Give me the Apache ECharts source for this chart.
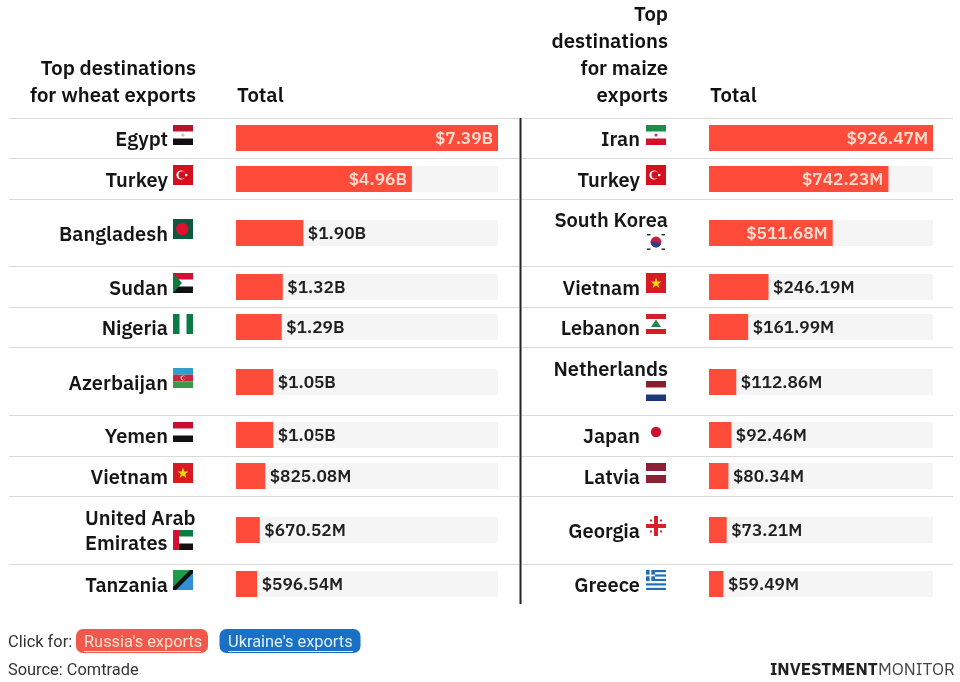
<!DOCTYPE html>
<html><head><meta charset="utf-8">
<style>html,body{margin:0;padding:0;background:#fff}#c{width:960px;height:682px}</style>
<script src="https://cdn.jsdelivr.net/npm/echarts@6/dist/echarts.min.js"></script>
</head><body><div id="c"></div>
<script>
// ---- data ----
const wheatCountries = ['Egypt','Turkey','Bangladesh','Sudan','Nigeria','Azerbaijan','Yemen','Vietnam','United Arab\nEmirates','Tanzania'];
const wheatValues = [7.39,4.96,1.90,1.32,1.29,1.05,1.05,0.82508,0.67052,0.59654]; // $ billions
const wheatLabels = ['$7.39B','$4.96B','$1.90B','$1.32B','$1.29B','$1.05B','$1.05B','$825.08M','$670.52M','$596.54M'];
const maizeCountries = ['Iran','Turkey','South Korea\n ','Vietnam','Lebanon','Netherlands\n ','Japan','Latvia','Georgia','Greece'];
const maizeValues = [926.47,742.23,511.68,246.19,161.99,112.86,92.46,80.34,73.21,59.49]; // $ millions
const maizeLabels = ['$926.47M','$742.23M','$511.68M','$246.19M','$161.99M','$112.86M','$92.46M','$80.34M','$73.21M','$59.49M'];
const wheatHeader = 'Top destinations\nfor wheat exports';
const maizeHeader = 'Top\ndestinations\nfor maize\nexports';
const totalHeader = 'Total';
const clickText = 'Click for:';
const russiaText = "Russia's exports";
const ukraineText = "Ukraine's exports";
const sourceText = 'Source: Comtrade';

// ---- layout (pixels) ----
const FONT = '"IBM Plex Sans","Noto Sans",sans-serif';
const FOOT = 'Roboto,sans-serif';
const rules = [118,158,199,266,307,347,415,456,496,564];
const barTops = [125,166,220,274,314,369,422,463,517,571];
const barH = 26;
const insideCount = {wheat:2, maize:3};
const wheatFlagTops = [125,165,219,273,314,368,422,463,530,570];
const maizeFlagTops = [125,165,232,273,314,381,422,463,516,570];
const tables = [
  {key:'wheat',names:wheatCountries,vals:wheatValues,labels:wheatLabels,left:236,width:262,nameRight:168,flagX:173,flagTops:wheatFlagTops,flags:['eg','tr','bd','sd','ng','az','ye','vn','ae','tz']},
  {key:'maize',names:maizeCountries,vals:maizeValues,labels:maizeLabels,left:709,width:224,nameRight:640,flagX:646,flagTops:maizeFlagTops,flags:['ir','tr','kr','vn','lb','nl','jp','lv','ge','gr']}
];

// ---- flags: shapes in a 20x20 box ----
const R=(x,y,w,h,f)=>({type:'rect',shape:{x,y,width:w,height:h},style:{fill:f}});
const C=(x,y,r,f)=>({type:'circle',shape:{cx:x,cy:y,r},style:{fill:f}});
const P=(pts,f)=>({type:'polygon',shape:{points:pts},style:{fill:f}});
const FLAGS={
  eg:[R(0,0,20,6.5,'#b3162b'),C(10,10,1.6,'#d9c08a'),R(0,13.5,20,6.5,'#111')],
  tr:[R(0,0,20,20,'#d4101f'),C(8,10,4.6,'#fff'),C(9.2,10,3.7,'#d4101f'),C(13.2,10,1.3,'#fff')],
  bd:[R(0,0,20,20,'#0a5a40'),C(9.3,10,6.2,'#e01030')],
  sd:[R(0,0,20,6.5,'#d21034'),R(0,13.5,20,6.5,'#111'),P([[0,0],[9,10],[0,20]],'#0d7a3e')],
  ng:[R(0,0,6.5,20,'#0b7a45'),R(13.5,0,6.5,20,'#0b7a45')],
  az:[R(0,0,20,6.7,'#2f9fd0'),R(0,6.7,20,6.6,'#c8273c'),R(0,13.3,20,6.7,'#3b9a4a'),C(10,10,2.4,'#f3d9da'),C(10.7,10,1.9,'#c8273c')],
  ye:[R(0,0,20,6.5,'#c8102e'),R(0,13.5,20,6.5,'#111')],
  vn:[R(0,0,20,20,'#da1a22'),P([[10,4.5],[11.4,8.4],[15.5,8.4],[12.2,10.9],[13.4,15],[10,12.5],[6.6,15],[7.8,10.9],[4.5,8.4],[8.6,8.4]],'#f7d308')],
  ae:[R(6,0,14,6.5,'#0b7a45'),R(6,13.5,14,6.5,'#111'),R(0,0,6,20,'#d21034')],
  tz:[P([[0,0],[20,0],[0,20]],'#1d9a4a'),P([[20,0],[20,20],[0,20]],'#2f8fd8'),P([[17,0],[20,0],[20,3],[3,20],[0,20],[0,17]],'#111')],
  ir:[R(0,0,20,6.5,'#1a8f4a'),C(10,10,1.6,'#c8404a'),R(0,13.5,20,6.5,'#d2102a')],
  kr:[C(10,10,5.4,'#c8203a'),{type:'sector',shape:{cx:10,cy:10,r:5.4,startAngle:0.2,endAngle:3.3},style:{fill:'#2d3f8f'}},R(1,2,3.5,1.4,'#222'),R(15.5,2,3.5,1.4,'#222'),R(1,16.5,3.5,1.4,'#222'),R(15.5,16.5,3.5,1.4,'#222')],
  lb:[R(0,0,20,5,'#d2202a'),P([[10,5.5],[15,13],[5,13]],'#1f8a45'),R(0,15,20,5,'#d2202a')],
  nl:[R(0,0,20,6.5,'#8e1c30'),R(0,13.5,20,6.5,'#1d3a78')],
  jp:[C(10,10,5.2,'#d01030')],
  lv:[R(0,0,20,8,'#8e2035'),R(0,12,20,8,'#8e2035')],
  ge:[R(8,0,4,20,'#d8202a'),R(0,8,20,4,'#d8202a'),R(4,3.5,2,2,'#d8202a'),R(14,3.5,2,2,'#d8202a'),R(4,14.5,2,2,'#d8202a'),R(14,14.5,2,2,'#d8202a')],
  gr:[R(0,0,20,2.2,'#1f6fb5'),R(0,4.4,20,2.2,'#1f6fb5'),R(0,8.9,20,2.2,'#1f6fb5'),R(0,13.3,20,2.2,'#1f6fb5'),R(0,17.8,20,2.2,'#1f6fb5'),R(0,0,8.9,11,'#1f6fb5'),R(3.6,0,1.7,11,'#fff'),R(0,4.6,8.9,1.7,'#fff')]
};

// ---- option ----
const grid=[],xAxis=[],yAxis=[],series=[],graphic=[];
const nameStyle={fontFamily:FONT,fontSize:20,fontWeight:600,color:'#161616',lineHeight:27};
const nameRich={
  p:{...nameStyle,padding:[4,0,0,0]},
  n:{...nameStyle},
  u:{...nameStyle,padding:[6,0,0,0]},
  v:{...nameStyle,padding:[2,0,0,0]}
};
tables.forEach(t=>{
  const max=t.vals[0];
  t.names.forEach((name,i)=>{
    const idx=grid.length, inside=i<insideCount[t.key];
    const leftBlock = name.startsWith('United');
    const multiRight = name.endsWith('\n ');
    grid.push({left:t.left,top:barTops[i],width:t.width,height:barH,containLabel:false});
    xAxis.push({type:'value',gridIndex:idx,min:0,max:max,show:false});
    yAxis.push({type:'category',gridIndex:idx,data:[name],axisLine:{show:false},axisTick:{show:false},
      axisLabel:{
        ...nameStyle,
        formatter:v=>v.split('\n').map((l,k)=>`{${leftBlock?(k?'v':'u'):(k?'n':'p')}|${l}}`).join('\n'),
        rich:nameRich,
        align:leftBlock?'left':'right',
        margin:leftBlock?151:(multiRight?41:t.left-t.nameRight)
      }});
    series.push({type:'bar',xAxisIndex:idx,yAxisIndex:idx,data:[t.vals[i]],barCategoryGap:0,barWidth:'100%',
      showBackground:true,backgroundStyle:{color:'#f5f5f5'},silent:true,
      itemStyle:{color:'#ff4b3a'},
      label:{show:true,position:inside?'insideRight':'right',distance:inside?5:4.5,offset:[0,1],
        formatter:()=>t.labels[i],fontFamily:FONT,fontSize:17.3,fontWeight:600,
        color:inside?'#fbdcd0':'#1f1f1f'}});
    graphic.push({type:'group',x:t.flagX,y:t.flagTops[i],children:FLAGS[t.flags[i]]});
  });
});
const line=(x1,y1,x2,y2,c,w)=>({type:'line',shape:{x1,y1,x2,y2},style:{stroke:c,lineWidth:w}});
rules.forEach(y=>{graphic.push(line(9,y+.5,519,y+.5,'#d9d9d9',1));graphic.push(line(522,y+.5,953,y+.5,'#d9d9d9',1));});
graphic.push(line(520.5,118,520.5,604,'#222',2));
const txt=(x,y,s,o)=>({type:'text',x,y,style:Object.assign({text:s,fontFamily:FONT,fontSize:20.3,fontWeight:600,fill:'#111',lineHeight:27,textVerticalAlign:'bottom'},o)});
graphic.push(txt(196,110,wheatHeader,{textAlign:'right'}));
graphic.push(txt(668,110,maizeHeader,{textAlign:'right'}));
graphic.push(txt(237,110,totalHeader,{textAlign:'left'}));
graphic.push(txt(710,110,totalHeader,{textAlign:'left'}));
const foot=(x,y,s,c)=>txt(x,y,s,{fontFamily:FOOT,fontWeight:400,fontSize:16.4,fill:c,textAlign:'left',textVerticalAlign:'middle',lineHeight:18});
graphic.push(foot(8,643,clickText,'#333'));
graphic.push({type:'rect',shape:{x:76,y:629,width:132,height:24,r:7},style:{fill:'#f0584c'}});
graphic.push(foot(84,643,russiaText,'#ffe3d6'));
graphic.push(line(84,651.5,201,651.5,'#ffe3d6',1));
graphic.push({type:'rect',shape:{x:219.5,y:629,width:141,height:24,r:7},style:{fill:'#1a70c4'}});
graphic.push(foot(228,643,ukraineText,'#e0f0ff'));
graphic.push(line(228,651.5,353,651.5,'#e0f0ff',1));
graphic.push(foot(8,671,sourceText,'#333'));
graphic.push(txt(770,670,'INVESTMENT',{textAlign:'left',textVerticalAlign:'middle',fontSize:17,fontWeight:700,fill:'#222',lineHeight:18}));
graphic.push(txt(878,670,'MONITOR',{textAlign:'left',textVerticalAlign:'middle',fontSize:17,fontWeight:400,fill:'#444',lineHeight:18}));

const chart=echarts.init(document.getElementById('c'),null,{renderer:'canvas'});
chart.setOption({animation:false,backgroundColor:'#fff',grid,xAxis,yAxis,series,graphic:{elements:graphic}});
</script></body></html>
